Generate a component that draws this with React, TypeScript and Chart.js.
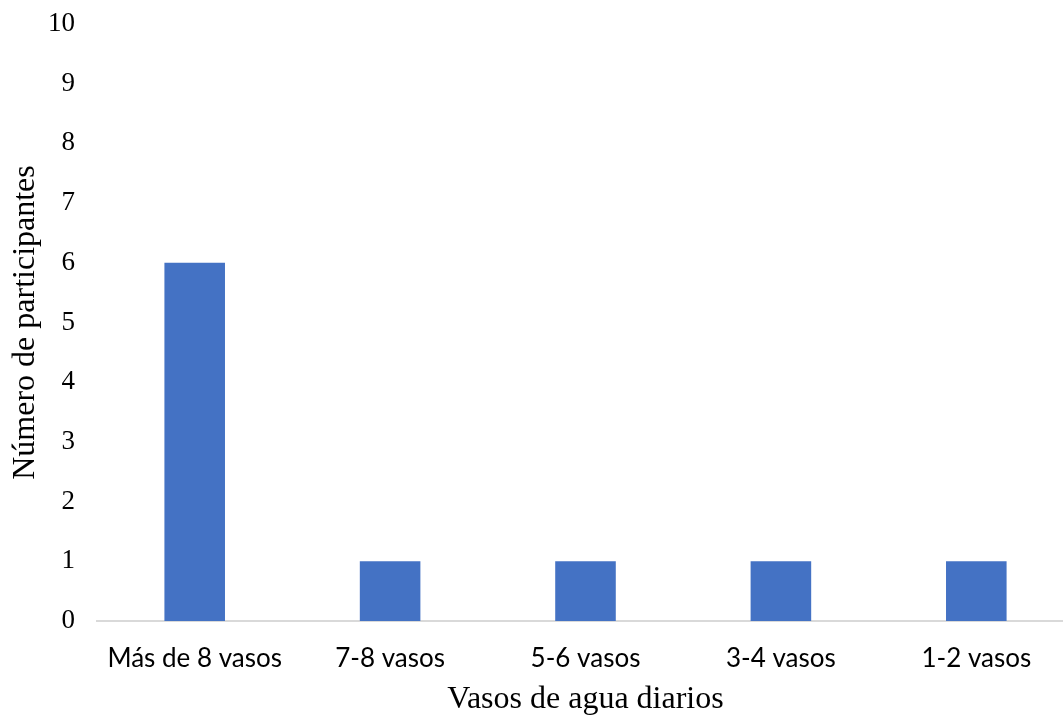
import React, { useEffect, useRef } from "react";
import { Chart, registerables } from "chart.js";

Chart.register(...registerables);

const categories = ["Más de 8 vasos", "7-8 vasos", "5-6 vasos", "3-4 vasos", "1-2 vasos"];
const participants = [6, 1, 1, 1, 1];
const yTicks = [0, 1, 2, 3, 4, 5, 6, 7, 8, 9, 10];

const SERIF = "'Liberation Serif', 'Times New Roman', serif";
const SANS = "Lato, 'Noto Sans', sans-serif";

export default function App() {
  const canvasRef = useRef<HTMLCanvasElement | null>(null);

  useEffect(() => {
    const canvas = canvasRef.current;
    if (!canvas) return;
    const chart = new Chart(canvas, {
      type: "bar",
      data: {
        labels: categories,
        datasets: [
          {
            data: participants,
            backgroundColor: "#4472c4",
            borderWidth: 0,
            barPercentage: 0.62,
            categoryPercentage: 0.5,
          },
        ],
      },
      options: {
        animation: false,
        responsive: false,
        maintainAspectRatio: false,
        layout: { padding: { top: 24, right: 0, bottom: 0, left: 0 } },
        plugins: {
          legend: { display: false },
          tooltip: { enabled: false },
        },
        scales: {
          x: {
            grid: { display: false, drawTicks: false },
            border: { display: true, color: "#d9d9d9", width: 2 },
            ticks: {
              color: "#000",
              font: { family: SANS, size: 26 },
              padding: 22,
              maxRotation: 0,
              autoSkip: false,
            },
            title: {
              display: true,
              text: "Vasos de agua diarios",
              color: "#000",
              font: { family: SERIF, size: 32 },
              padding: { top: 0, bottom: 2 },
            },
            afterFit: (scale: any) => {
              scale.height = 100;
            },
          },
          y: {
            min: 0,
            max: 10,
            afterBuildTicks: (scale: any) => {
              scale.ticks = yTicks.map((v) => ({ value: v }));
            },
            grid: { display: false, drawTicks: false },
            border: { display: false },
            ticks: {
              color: "#000",
              font: { family: SERIF, size: 27 },
              padding: 22,
            },
            title: {
              display: true,
              text: "Número de participantes",
              color: "#000",
              font: { family: SERIF, size: 32 },
              padding: { top: 6, bottom: 0 },
            },
            afterFit: (scale: any) => {
              scale.width = 97;
              scale.paddingTop = 0;
              scale.paddingBottom = 0;
            },
          },
        },
      },
    });
    return () => chart.destroy();
  }, []);

  return (
    <div
      style={{
        position: "fixed",
        left: 0,
        top: 0,
        width: 1074,
        height: 721,
        background: "#fff",
      }}
    >
      <canvas ref={canvasRef} width={1074} height={721} style={{ display: "block" }} />
    </div>
  );
}
